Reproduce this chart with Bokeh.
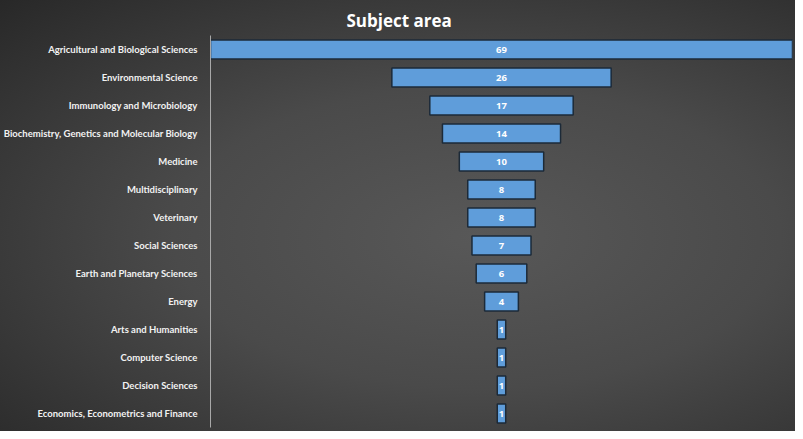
from bokeh.plotting import figure
from bokeh.models import Range1d, FactorRange, ColumnDataSource
from bokeh.core.properties import value
from bokeh.embed import file_html
from bokeh.resources import INLINE

categories = [
    "Agricultural and Biological Sciences",
    "Environmental Science",
    "Immunology and Microbiology",
    "Biochemistry, Genetics and Molecular Biology",
    "Medicine",
    "Multidisciplinary",
    "Veterinary",
    "Social Sciences",
    "Earth and Planetary Sciences",
    "Energy",
    "Arts and Humanities",
    "Computer Science",
    "Decision Sciences",
    "Economics, Econometrics and Finance",
]
counts = [69, 26, 17, 14, 10, 8, 8, 7, 6, 4, 1, 1, 1, 1]
title_text = "Subject area"

half_max = max(counts) / 2.0
source = ColumnDataSource(data=dict(
    cat=categories,
    left=[-c / 2.0 for c in counts],
    right=[c / 2.0 for c in counts],
    label=[str(c) for c in counts],
    mid=[0.0 for c in counts],
))

p = figure(
    width=795, height=431,
    y_range=FactorRange(factors=list(reversed(categories)), range_padding=0),
    x_range=Range1d(-half_max, half_max),
    output_backend="svg", toolbar_location=None,
    min_border_left=208, min_border_right=3, min_border_top=35, min_border_bottom=4,
    title=title_text,
)
p.styles = {"background": "radial-gradient(farthest-corner at 60% 55%, #585858 0%, #4a4a4a 45%, #282828 100%)"}
p.background_fill_alpha = 0
p.border_fill_alpha = 0
p.outline_line_color = None
p.xgrid.visible = False
p.ygrid.visible = False
p.xaxis.visible = False

p.title.align = "left"
p.title.offset = 136
p.title.standoff = 8
p.title.text_color = "#ffffff"
p.title.text_font = "Open Sans"
p.title.text_font_style = "bold"
p.title.text_font_size = "17px"

yax = p.yaxis[0]
yax.axis_line_color = "#a8a8a8"
yax.axis_line_width = 1
yax.major_tick_line_color = None
yax.minor_tick_line_color = None
yax.major_label_standoff = 7
yax.major_label_text_color = "#f2f2f2"
yax.major_label_text_font = "Lato"
yax.major_label_text_font_style = "bold"
yax.major_label_text_font_size = "9.5px"

p.hbar(y="cat", left="left", right="right", height=0.68, source=source,
       fill_color="#5f9dda", line_color="#1c2a38", line_width=1.5)

p.text(x="mid", y="cat", text="label", source=source,
       text_align="center", text_baseline="middle",
       text_color="#ffffff", text_font=value("Open Sans"),
       text_font_style="bold", text_font_size="9.5px")

open("out.html", "w").write(file_html(p, INLINE))
